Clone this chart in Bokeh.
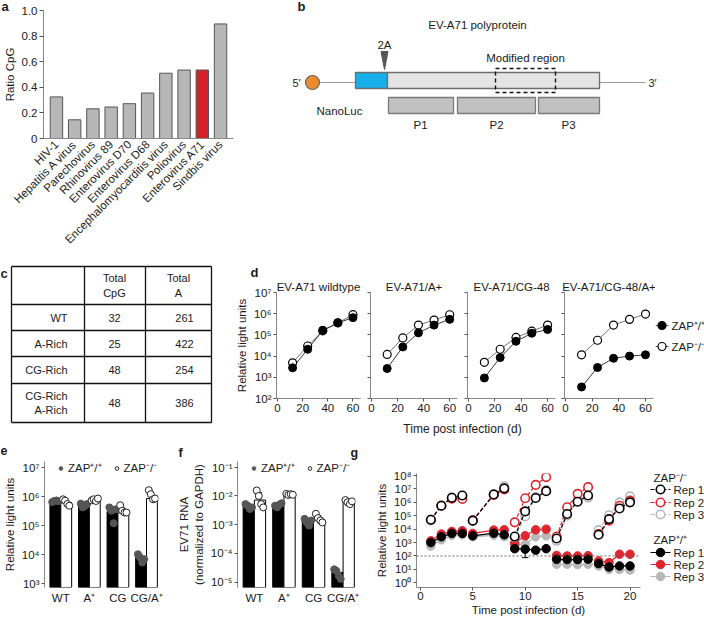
import numpy as np
from bokeh.plotting import figure
from bokeh.layouts import row, column
from bokeh.models import (Range1d, FactorRange, FixedTicker, CustomJSTickFormatter,
                          Legend, LegendItem, Span, Title)
from bokeh.core.properties import value
from bokeh.embed import file_html
from bokeh.resources import INLINE

# ---------------- data ----------------
viruses = ["HIV-1", "Hepatitis A virus", "Parechovirus", "Rhinovirus 89", "Enterovirus D70",
           "Enterovirus D68", "Encephalomyocarditis virus", "Poliovirus", "Enterovirus A71",
           "Sindbis virus"]
cpg_ratio = [0.325, 0.146, 0.232, 0.246, 0.272, 0.355, 0.51, 0.535, 0.535, 0.895]
highlight = "Enterovirus A71"
a_ticks = [0, 0.2, 0.4, 0.6, 0.8, 1.0]

constructs = ["WT", "A-Rich", "CG-Rich", "CG-Rich\nA-Rich"]
total_cpg = [32, 25, 48, 48]
total_a = [261, 422, 254, 386]
table_headers = ["Total\nCpG", "Total\nA"]

d_titles = ["EV-A71 wildtype", "EV-A71/A+", "EV-A71/CG-48", "EV-A71/CG-48/A+"]
d_time = [12, 24, 36, 48, 60]
d_zap_wt = [[2.8e3, 2.1e4, 1.65e5, 3.7e5, 6.5e5],
            [2.6e3, 2.7e4, 1.25e5, 2.9e5, 5.4e5],
            [9.3e2, 8.5e3, 5.0e4, 1.2e5, 1.8e5],
            [3.5e2, 2.9e3, 7.9e3, 1.0e4, 1.15e4]]
d_zap_ko = [[4.8e3, 3.0e4, 1.55e5, 3.7e5, 9.0e5],
            [1.2e4, 7.2e4, 2.9e5, 5.0e5, 8.9e5],
            [5.1e3, 2.1e4, 7.6e4, 1.5e5, 2.9e5],
            [1.15e4, 5.6e4, 2.9e5, 5.4e5, 9.6e5]]
d_legend_labels = ["ZAP\u207a/\u207a", "ZAP\u207b/\u207b"]
log_ticks_d = [1e2, 1e3, 1e4, 1e5, 1e6, 1e7]

bar_groups = ["WT", "A\u207a", "CG", "CG/A\u207a"]
e_wt_mean = [7.0e5, 4.8e5, 3.0e5, 8.0e3]
e_ko_mean = [6.2e5, 7.2e5, 3.0e5, 8.5e5]
e_ko_lo = [4.8e5, 6.4e5, 2.5e5, 6.5e5]
e_ko_hi = [8.2e5, 8.2e5, 4.0e5, 1.3e6]
e_wt_pts = [[6.4e5, 7.0e5, 7.3e5, 6.8e5], [5.7e5, 4.2e5, 4.8e5, 5.5e5],
            [4.2e5, 3.2e5, 1.2e5, 3.6e5], [1.02e4, 8.0e3, 5.3e3, 6.9e3]]
e_ko_pts = [[8.0e5, 7.2e5, 5.5e5, 4.8e5], [7.4e5, 8.0e5, 7.0e5, 8.5e5],
            [5.0e5, 3.2e5, 2.8e5, 2.8e5], [1.65e6, 1.2e6, 8.0e5, 8.5e5]]
e_ticks = [1e3, 1e4, 1e5, 1e6, 1e7]

f_wt_mean = [4.2e-3, 4.5e-3, 1.4e-3, 2.2e-5]
f_ko_mean = [7.2e-3, 1.05e-2, 1.5e-3, 6.0e-3]
f_ko_lo = [4.0e-3, 9.6e-3, 1.1e-3, 5.0e-3]
f_ko_hi = [1.3e-2, 1.15e-2, 2.1e-3, 7.2e-3]
f_wt_pts = [[5.2e-3, 4.6e-3, 3.5e-3, 4.0e-3], [4.6e-3, 4.0e-3, 5.0e-3, 5.6e-3],
            [1.6e-3, 1.2e-3, 9.3e-4, 1.4e-3], [2.8e-5, 2.5e-5, 1.7e-5, 1.3e-5]]
f_ko_pts = [[1.55e-2, 1.0e-2, 5.2e-3, 4.0e-3], [1.18e-2, 1.08e-2, 1.15e-2, 1.1e-2],
            [2.4e-3, 1.7e-3, 1.4e-3, 1.2e-3], [7.2e-3, 6.0e-3, 5.2e-3, 6.5e-3]]
f_ticks = [1e-5, 1e-4, 1e-3, 1e-2, 1e-1]

g_days = [1, 2, 3, 4, 5, 7, 8, 9, 10, 11, 12, 13, 14, 15, 16, 17, 18, 19, 20]
g_segments = [(0, 4), (4, 7), (7, 11), (11, 15), (15, 19)]
g_ko = [  # ZAP-/- Rep 1, Rep 2, Rep 3
    [5.0e4, 5.6e5, 2.2e6, 3.2e6, 4.3e4, 3.8e6, 1.1e7, 2.8e3, 2.1e5, 2.1e6, 6.8e6,
     2.0e3, 1.35e5, 1.1e6, 3.2e6, 3.8e3, 5.6e4, 3.5e5, 1.0e6],
    [5.0e4, 5.6e5, 1.9e6, 1.8e6, 4.6e4, 3.6e6, 9.0e6, 3.2e4, 2.0e6, 2.0e7, 7.6e7,
     2.8e3, 4.3e5, 4.3e6, 1.35e7, 4.3e3, 4.3e4, 5.6e5, 1.35e6],
    [4.5e4, 6.0e5, 2.4e6, 3.0e6, 4.0e4, 4.2e6, 1.6e7, 2.5e3, 8.9e4, 2.5e6, 8.5e6,
     1.35e3, 1.0e5, 1.5e6, 2.2e6, 8.5e3, 1.1e5, 1.0e6, 2.8e6]]
g_wt = [  # ZAP+/+ Rep 1, Rep 2, Rep 3
    [1.0e3, 2.7e3, 4.8e3, 4.8e3, 3.2e3, 5.0e3, 3.8e3, 3.5e2, 3.2e2, 2.7e2, 3.5e2,
     5.6e1, 5.4e1, 5.4e1, 5.8e1, 2.7e1, 1.5e1, 1.8e1, 1.8e1],
    [1.35e3, 4.3e3, 6.8e3, 7.6e3, 4.8e3, 8.5e3, 8.9e3, 8.9e2, 3.2e3, 8.9e3, 1.0e4,
     1.1e2, 1.0e2, 1.0e2, 1.05e2, 4.3e1, 3.2e1, 1.35e2, 1.35e2],
    [5.6e2, 1.6e3, 3.5e3, 3.8e3, 2.7e3, 3.5e3, 2.8e3, 6.3e2, 7.6e2, 2.7e3, 3.2e3,
     2.4e1, 2.4e1, 2.3e1, 2.4e1, 1.8e1, 1.0e1, 1.0e1, 9.0e0]]
g_err_days = [10, 18]
g_err_lo = [7.5e1, 1.0e1]
g_err_hi = [4.2e2, 2.0e1]
g_threshold = 1e2
g_ticks = [1e0, 1e1, 1e2, 1e3, 1e4, 1e5, 1e6, 1e7, 1e8]
g_rep_labels = ["Rep 1", "Rep 2", "Rep 3"]
g_leg_headers = ["ZAP\u207b/\u207b", "ZAP\u207a/\u207a"]

# ---------------- style ----------------
FONT = "Liberation Sans"
TXT = "#1a1a1a"
GREY_BAR = "#b7b7b7"
RED = "#d42027"
REP_COLORS = ["#000000", "#e0262d", "#b8b8b8"]

SUP = CustomJSTickFormatter(code="""
const m = {"0":"\u2070","1":"\u00b9","2":"\u00b2","3":"\u00b3","4":"\u2074","5":"\u2075",
           "6":"\u2076","7":"\u2077","8":"\u2078","9":"\u2079","-":"\u207b"};
const e = Math.round(Math.log10(tick));
return "10" + String(e).split("").map(c => m[c]).join("");
""")


def make_fig(x0, x1, y0, y1, fl, fr, ft, fb, **kw):
    p = figure(width=x1 - x0, height=y1 - y0, output_backend="svg", toolbar_location=None,
               min_border_left=fl - x0, min_border_right=x1 - fr,
               min_border_top=ft - y0, min_border_bottom=y1 - fb, **kw)
    p.outline_line_color = None
    p.grid.visible = False
    return p


def make_canvas(x0, x1, y0, y1, fy0=None, fy1=None):
    fy0 = y0 if fy0 is None else fy0
    fy1 = y1 if fy1 is None else fy1
    p = figure(width=x1 - x0, height=y1 - y0, output_backend="svg", toolbar_location=None,
               x_range=Range1d(x0, x1), y_range=Range1d(fy1, fy0),
               min_border_left=0, min_border_right=0,
               min_border_top=fy0 - y0, min_border_bottom=y1 - fy1)
    p.outline_line_color = None
    p.grid.visible = False
    p.axis.visible = False
    return p


def style_axes(p, fsz=11.5):
    for ax in p.axis:
        ax.axis_line_color = "#888888"
        ax.major_tick_line_color = "#555555"
        ax.minor_tick_line_color = None
        ax.major_tick_in = 0
        ax.major_tick_out = 3
        ax.major_label_text_font = FONT
        ax.major_label_text_font_size = f"{fsz}px"
        ax.major_label_text_color = TXT
        ax.major_label_standoff = 2
        ax.axis_label_text_font = FONT
        ax.axis_label_text_font_size = f"{fsz}px"
        ax.axis_label_text_font_style = "normal"
        ax.axis_label_text_color = TXT
        ax.axis_label_standoff = 3


def hide_tick_labels(ax):
    ax.major_label_text_alpha = 0
    ax.major_label_text_font_size = "1px"
    ax.major_label_standoff = 0


def txt(p, xs, ys, texts, size=11, align="center", baseline="middle", style="normal"):
    p.text(x=xs, y=ys, text=texts, text_font=value(FONT), text_font_size=value(f"{size}px"),
           text_align=align, text_baseline=baseline, text_font_style=style, text_color=TXT)


def add_title(p, text, align="center", offset=0, standoff=0, size=12, bold=False):
    p.add_layout(Title(text=text, align=align, offset=offset, standoff=standoff,
                       text_font=FONT, text_font_size=f"{size}px",
                       text_font_style="bold" if bold else "normal", text_color=TXT,
                       vertical_align="bottom"), "above")


ROW2_TOP, ROW2_BOT = 262, 444
ROW3_TOP, ROW3_FB, ROW3_BOT = 461, 587, 618

# ---------------- row 1: panel a ----------------
pa = make_fig(0, 285, 0, ROW2_TOP, 42, 233, 10, 138,
              x_range=FactorRange(*viruses, range_padding=0.042),
              y_range=Range1d(0, 1.0))
bar_colors = [RED if v == highlight else GREY_BAR for v in viruses]
pa.vbar(x=viruses, top=cpg_ratio, width=0.68, fill_color=bar_colors,
        line_color="#555555", line_width=1)
style_axes(pa, 11.5)
pa.yaxis.ticker = FixedTicker(ticks=a_ticks)
pa.yaxis.major_label_overrides = {0: "0", 1: "1.0"}
pa.yaxis.axis_label = "Ratio CpG"
pa.yaxis.major_tick_out = 4
pa.xaxis.major_label_orientation = np.pi / 4
pa.xaxis.major_tick_out = 0
pa.xaxis.major_label_standoff = 4
add_title(pa, "a", align="left", offset=-42, standoff=-7, size=13, bold=True)

# ---------------- row 1: panel b (schematic) ----------------
pb = make_canvas(285, 704, 0, ROW2_TOP, 10, 138)
pb.multi_line(xs=[[318, 355], [599, 645]], ys=[[82, 82], [82, 82]], line_color="#9a9a9a",
              line_width=1)
pb.scatter(x=[312], y=[82], size=14, fill_color="#ef8a2c", line_color="#666666",
           line_width=1.2)
pb.quad(left=[355, 387], right=[387, 599], top=[72, 72], bottom=[88, 88],
        fill_color=["#17aeea", "#e4e4e4"], line_color="#6e6e6e", line_width=1.3)
pb.quad(left=[388, 457, 538], right=[453, 535, 599], top=[97] * 3, bottom=[113] * 3,
        fill_color="#c1c1c1", line_color="#7a7a7a", line_width=1.3)
pb.quad(left=[495], right=[555], top=[68], bottom=[92], fill_color=None,
        line_color="#111111", line_width=1.4, line_dash="4 3")
pb.patch(x=[380.5, 387.5, 384], y=[51, 51, 69], fill_color="#555555", line_color="#555555")
txt(pb, [420, 496, 568], [124, 124, 124], ["P1", "P2", "P3"], 11.5)
txt(pb, [477, 384, 525], [24, 44, 57], ["EV-A71 polyprotein", "2A", "Modified region"], 11.5)
txt(pb, [296, 652], [82, 82], ["5\u2032", "3\u2032"], 11)
txt(pb, [339], [110], ["NanoLuc"], 11.5)
add_title(pb, "b", align="left", offset=12, standoff=-7, size=13, bold=True)

# ---------------- row 2: panel c (table) ----------------
pc = make_canvas(0, 232, ROW2_TOP, ROW2_BOT)
col_x = [11, 84, 145, 211]
row_y = [266, 304, 330, 356, 383, 422]
pc.multi_line(xs=[[x, x] for x in col_x] + [[col_x[0], col_x[-1]] for _ in row_y],
              ys=[[row_y[0], row_y[-1]] for _ in col_x] + [[y, y] for y in row_y],
              line_color="#111111", line_width=1.3)
row_mid = [(row_y[i] + row_y[i + 1]) / 2 for i in range(1, len(row_y) - 1)]
txt(pc, [114, 178], [(row_y[0] + row_y[1]) / 2] * 2, table_headers, 11)
txt(pc, [67] * 4, row_mid, constructs, 11, align="right")
txt(pc, [114] * 4, row_mid, [str(v) for v in total_cpg], 11)
txt(pc, [184] * 4, row_mid, [str(v) for v in total_a], 11)
txt(pc, [0], [265], ["c"], 13, align="left", baseline="top", style="bold")

# ---------------- row 2: panel d ----------------
d_geom = [(232, 364, 271, 360), (364, 460, 370, 457), (460, 557, 467, 555), (557, 655, 564, 653)]
d_figs = []
for i, (x0, x1, fl, fr) in enumerate(d_geom):
    p = make_fig(x0, x1, ROW2_TOP, 420, fl, fr, 292, 398, y_axis_type="log",
                 x_range=Range1d(-0.8, 66), y_range=Range1d(1e2, 1e7))
    add_title(p, d_titles[i], standoff=0, size=11.5)
    p.line(d_time, d_zap_ko[i], line_color="#666666", line_width=0.9)
    p.line(d_time, d_zap_wt[i], line_color="#222222", line_width=0.9)
    p.scatter(d_time, d_zap_ko[i], size=8, fill_color="white", line_color="#000",
              line_width=1.2)
    p.scatter(d_time, d_zap_wt[i], size=8, fill_color="#000", line_color="#000")
    style_axes(p, 11.5)
    p.xaxis.ticker = FixedTicker(ticks=[0, 20, 40, 60])
    p.yaxis.ticker = FixedTicker(ticks=log_ticks_d)
    p.yaxis.formatter = SUP
    if i == 0:
        p.yaxis.axis_label = "Relative light units"
        add_title(p, "d", align="left", offset=-26, standoff=-3, size=13, bold=True)
    else:
        hide_tick_labels(p.yaxis[0])
    d_figs.append(p)

dleg = make_canvas(655, 704, ROW2_TOP, 420, 292, 398)
d_leg_y = [325, 346]
dleg.multi_line(xs=[[655, 668]] * 2, ys=[[y, y] for y in d_leg_y], line_color="#444444",
                line_width=0.9)
dleg.scatter(x=[661.5] * 2, y=d_leg_y, size=8, fill_color=["#000000", "#ffffff"],
             line_color="#000", line_width=1.2)
txt(dleg, [671] * 2, d_leg_y, d_legend_labels, 11.5, align="left")

dlab = make_canvas(232, 704, 420, ROW2_BOT)
txt(dlab, [462], [428], ["Time post infection (d)"], 12)

# ---------------- row 3: letters strip ----------------
strip3 = make_canvas(0, 704, ROW2_BOT, ROW3_TOP)
txt(strip3, [0, 178, 350], [445, 445, 445], ["e", "f", "g"], 12.5, align="left",
    baseline="top", style="bold")

# ---------------- row 3: panels e, f ----------------
dot_jitter = [-0.11, -0.04, 0.04, 0.11]
xs_wt = [i - 0.19 for i in range(4)]
xs_ko = [i + 0.19 for i in range(4)]
LEG_H = 14


def bar_panel(x0, x1, fl, fr, yr, wt_mean, ko_mean, ko_lo, ko_hi, wt_pts, ko_pts, ticks,
              ylabel):
    p = make_fig(x0, x1, ROW3_TOP, ROW3_BOT, fl, fr, ROW3_TOP, ROW3_FB, y_axis_type="log",
                 x_range=Range1d(-0.57, 3.42), y_range=yr)
    base = yr.start
    p.vbar(x=xs_wt, top=wt_mean, bottom=base, width=0.38, fill_color="#000",
           line_color="#000")
    p.vbar(x=xs_ko, top=ko_mean, bottom=base, width=0.38, fill_color="white",
           line_color="#000", line_width=1)
    p.segment(x0=xs_ko, x1=xs_ko, y0=ko_lo, y1=ko_hi, line_color="#000", line_width=1)
    p.segment(x0=[x - 0.07 for x in xs_ko], x1=[x + 0.07 for x in xs_ko], y0=ko_hi,
              y1=ko_hi, line_color="#000", line_width=1)
    wx, wy, kx, ky = [], [], [], []
    for i in range(4):
        for j in range(4):
            wx.append(xs_wt[i] + dot_jitter[j]); wy.append(wt_pts[i][j])
            kx.append(xs_ko[i] + dot_jitter[j]); ky.append(ko_pts[i][j])
    r1 = p.scatter(wx, wy, size=7, fill_color="#555555", line_color="#555555")
    r2 = p.scatter(kx, ky, size=7, fill_color="white", line_color="#222222", line_width=1)
    style_axes(p, 11.5)
    p.yaxis.ticker = FixedTicker(ticks=ticks)
    p.yaxis.formatter = SUP
    p.yaxis.axis_label = ylabel
    p.xaxis.ticker = FixedTicker(ticks=[0, 1, 2, 3])
    p.xaxis.major_label_overrides = {i: g for i, g in enumerate(bar_groups)}
    p.xaxis.axis_line_color = None
    p.xaxis.major_tick_line_color = None
    p.xaxis.major_tick_out = 0
    p.xaxis.major_label_standoff = 4
    leg = Legend(items=[LegendItem(label=d_legend_labels[0], renderers=[r1]),
                        LegendItem(label=d_legend_labels[1], renderers=[r2])],
                 orientation="horizontal",
                 location=(12, ROW3_FB - ROW3_TOP - LEG_H),
                 border_line_color=None, background_fill_alpha=0, label_text_font=FONT,
                 label_text_font_size="11.5px", label_text_color=TXT, glyph_width=9,
                 glyph_height=12, label_height=12, label_standoff=3, spacing=10, padding=0,
                 margin=0)
    p.add_layout(leg)
    return p


# y ranges: frame spans 461..587 px; decade positions
e_range = Range1d(10 ** (3 - 4 / 29), 10 ** (7 + 6 / 29))
f_range = Range1d(10 ** (-5 - 5.3 / 28.75), 10 ** (-1 + 5.7 / 28.75))
pe = bar_panel(0, 175, 40, 158, e_range, e_wt_mean, e_ko_mean, e_ko_lo, e_ko_hi,
               e_wt_pts, e_ko_pts, e_ticks, "Relative light units")
pf = bar_panel(175, 372, 233, 355, f_range, f_wt_mean, f_ko_mean, f_ko_lo, f_ko_hi,
               f_wt_pts, f_ko_pts, f_ticks, "EV71 RNA\n(normalized to GAPDH)")

# ---------------- row 3: panel g ----------------
pg = make_fig(372, 648, ROW3_TOP, ROW3_BOT, 410, 640, 473, ROW3_FB, y_axis_type="log",
              x_range=Range1d(-0.37, 21.0),
              y_range=Range1d(10 ** (-4.7 / 13.375), 10 ** (8 + 2 / 13.375)))
pg.add_layout(Span(location=g_threshold, dimension="width", line_color="#555555",
                   line_width=0.9, line_dash="2 2"))
for k in (2, 1, 0):
    for a, b in g_segments:
        pg.line(g_days[a:b], g_wt[k][a:b], line_color=REP_COLORS[k], line_width=1.3)
    pg.scatter(g_days, g_wt[k], size=8.5, fill_color=REP_COLORS[k], line_color=REP_COLORS[k])
pg.segment(x0=g_err_days, x1=g_err_days, y0=g_err_lo, y1=g_err_hi, line_color="#000",
           line_width=1)
pg.segment(x0=[d - 0.3 for d in g_err_days], x1=[d + 0.3 for d in g_err_days],
           y0=g_err_lo, y1=g_err_lo, line_color="#000", line_width=1)
for k in (2, 1, 0):
    for a, b in g_segments:
        pg.line(g_days[a:b], g_ko[k][a:b], line_color=REP_COLORS[k], line_width=1.2,
                line_dash="4 2")
    pg.scatter(g_days, g_ko[k], size=8.5, fill_color="white", line_color=REP_COLORS[k],
               line_width=1.6)
style_axes(pg, 11.5)
pg.xaxis.ticker = FixedTicker(ticks=[0, 5, 10, 15, 20])
pg.yaxis.ticker = FixedTicker(ticks=g_ticks)
pg.yaxis.formatter = SUP
pg.yaxis.axis_label = "Relative light units"
pg.xaxis.axis_label = "Time post infection (d)"
pg.xaxis.axis_label_standoff = 1
pg.xaxis.major_label_standoff = 1

gleg = make_canvas(648, 704, ROW3_TOP, ROW3_BOT, ROW3_TOP, ROW3_FB)
g_head_y = [477, 539]
g_rep_y = [[489, 502, 514], [552, 564, 576]]
txt(gleg, [653] * 2, g_head_y, g_leg_headers, 11.5, align="left")
for grp in range(2):
    ys = g_rep_y[grp]
    for k in range(3):
        gleg.line([650, 670], [ys[k], ys[k]], line_color=REP_COLORS[k], line_width=1.2,
                  line_dash="4 2" if grp == 0 else "solid")
    gleg.scatter(x=[660] * 3, y=ys, size=8.5,
                 fill_color=["white"] * 3 if grp == 0 else REP_COLORS,
                 line_color=REP_COLORS, line_width=1.6 if grp == 0 else 1)
    txt(gleg, [673] * 3, ys, g_rep_labels, 11.5, align="left")

# ---------------- layout ----------------
layout = column(row(pa, pb),
                row(pc, column(row(*d_figs, dleg), dlab)),
                column(strip3, row(pe, pf, column(pg), gleg)))

open("out.html", "w").write(file_html(layout, INLINE, "EV-A71 figure"))
